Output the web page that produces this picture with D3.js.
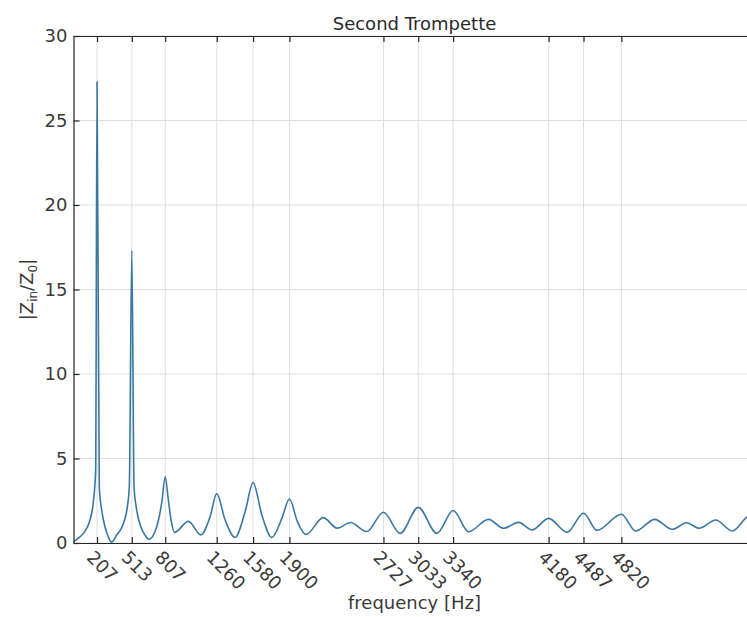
<!DOCTYPE html>
<html>
<head>
<meta charset="utf-8">
<script src="https://cdn.jsdelivr.net/npm/d3@7"></script>
<style>
  html, body { margin: 0; padding: 0; background: #fff; }
  svg { display: block; font-family: "DejaVu Sans", sans-serif; }
</style>
</head>
<body>
<svg id="chart" width="747" height="617"></svg>
<script>
// Input impedance magnitude of the Second Trompette pipe
const freqHz = [0, 40, 86, 145, 174, 195, 207, 227, 248, 277, 306, 336,
  380, 439, 474, 491, 513, 533, 556, 592, 629, 665,
  732, 776, 807, 835, 860, 888, 1011, 1120, 1202, 1260, 1334, 1422,
  1510, 1580, 1657, 1745, 1833, 1900, 1970, 2045,
  2197, 2320, 2437, 2580, 2727, 2874, 3033, 3197, 3340, 3476,
  3652, 3784, 3916, 4034, 4180, 4342, 4487, 4606, 4820, 4946,
  5113, 5269, 5395, 5504, 5650, 5797, 5930, 6000];
const zRatio = [0.08, 0.27, 0.57, 1.36, 2.4, 4.3, 27.3, 3.3, 1.95, 0.96, 0.37, 0.05,
  0.47, 1.16, 2.15, 3.33, 17.3, 3.3, 1.95, 0.96, 0.47, 0.22,
  0.96, 2.37, 3.92, 2.5, 1.3, 0.63, 1.28, 0.48, 1.56, 2.92, 1.36, 0.33,
  1.85, 3.57, 1.66, 0.33, 1.46, 2.6, 1.26, 0.5,
  1.5, 0.88, 1.21, 0.68, 1.82, 0.57, 2.11, 0.57, 1.92, 0.67,
  1.4, 0.87, 1.22, 0.77, 1.46, 0.63, 1.76, 0.75, 1.7, 0.71,
  1.4, 0.81, 1.2, 0.87, 1.36, 0.71, 1.56, 1.7];

// Resonance frequencies marked on the frequency axis
const xTicks = [207, 513, 807, 1260, 1580, 1900, 2727, 3033, 3340, 4180, 4487, 4820];
const yTicks = [0, 5, 10, 15, 20, 25, 30];

const titleText = "Second Trompette";
const xLabel = "frequency [Hz]";

const svg = d3.select("#chart");
const plotL = 73.5, plotR = 755.5, plotT = 36, plotB = 543;

const x = d3.scaleLinear().domain([0, 6000]).range([plotL, plotR]);
const y = d3.scaleLinear().domain([0, 30]).range([plotB, plotT]);

const textColor = "#3a3a3a";
const axisColor = "#262626";

// grid
const grid = svg.append("g");
grid.selectAll("line.vx").data(xTicks).join("line")
  .attr("x1", d => x(d)).attr("x2", d => x(d))
  .attr("y1", plotT).attr("y2", plotB)
  .attr("stroke", "#dedede").attr("stroke-width", 1);
grid.selectAll("line.hy").data(yTicks).join("line")
  .attr("x1", plotL).attr("x2", plotR)
  .attr("y1", d => y(d)).attr("y2", d => y(d))
  .attr("stroke", "#dedede").attr("stroke-width", 1);

// impedance curve
const pts = freqHz.map((f, i) => [f, zRatio[i]]);
const line = d3.line()
  .x(d => x(d[0])).y(d => y(d[1]))
  .curve(d3.curveMonotoneX);
svg.append("path")
  .datum(pts)
  .attr("d", line)
  .attr("fill", "none")
  .attr("stroke", "#3a78a2")
  .attr("stroke-width", 1.6)
  .attr("stroke-linejoin", "round");

// axes (ticks pointing into the plot)
const axBottom = svg.append("g").attr("transform", `translate(0,${plotB})`)
  .call(d3.axisBottom(x).tickValues(xTicks).tickSizeInner(-6).tickSizeOuter(0).tickFormat(""));
const axTop = svg.append("g").attr("transform", `translate(0,${plotT})`)
  .call(d3.axisTop(x).tickValues(xTicks).tickSizeInner(-6).tickSizeOuter(0).tickFormat(""));
const axLeft = svg.append("g").attr("transform", `translate(${plotL},0)`)
  .call(d3.axisLeft(y).tickValues(yTicks).tickSizeInner(-6).tickSizeOuter(0).tickFormat(""));
[axBottom, axTop, axLeft].forEach(g => {
  g.select(".domain").attr("stroke", axisColor).attr("stroke-width", 1.2);
  g.selectAll(".tick line").attr("stroke", axisColor).attr("stroke-width", 1.2);
});

// y tick labels
svg.append("g").selectAll("text").data(yTicks).join("text")
  .attr("x", plotL - 6).attr("y", d => y(d)).attr("dy", "0.36em")
  .attr("text-anchor", "end")
  .attr("font-size", 18).attr("fill", textColor)
  .text(d => d);

// x tick labels, rotated
svg.append("g").selectAll("text").data(xTicks).join("text")
  .attr("transform", d => `translate(${x(d)},${plotB}) rotate(45)`)
  .attr("x", 3).attr("y", 19)
  .attr("font-size", 18).attr("fill", textColor)
  .text(d => d);

// title
svg.append("text")
  .attr("x", (plotL + plotR) / 2).attr("y", 29.5)
  .attr("text-anchor", "middle")
  .attr("font-size", 18).attr("fill", "#2a2a2a")
  .text(titleText);

// x axis label
svg.append("text")
  .attr("x", (plotL + plotR) / 2).attr("y", 608.5)
  .attr("text-anchor", "middle")
  .attr("font-size", 18).attr("fill", textColor)
  .text(xLabel);

// y axis label |Z_in/Z_0|
const yl = svg.append("text")
  .attr("transform", `translate(33,${(plotT + plotB) / 2}) rotate(-90)`)
  .attr("text-anchor", "middle")
  .attr("font-size", 18).attr("fill", textColor);
yl.append("tspan").text("|Z");
yl.append("tspan").attr("font-size", 12).attr("dy", 4).text("in");
yl.append("tspan").attr("dy", -4).text("/Z");
yl.append("tspan").attr("font-size", 12).attr("dy", 4).text("0");
yl.append("tspan").attr("dy", -4).text("|");
</script>
</body>
</html>
